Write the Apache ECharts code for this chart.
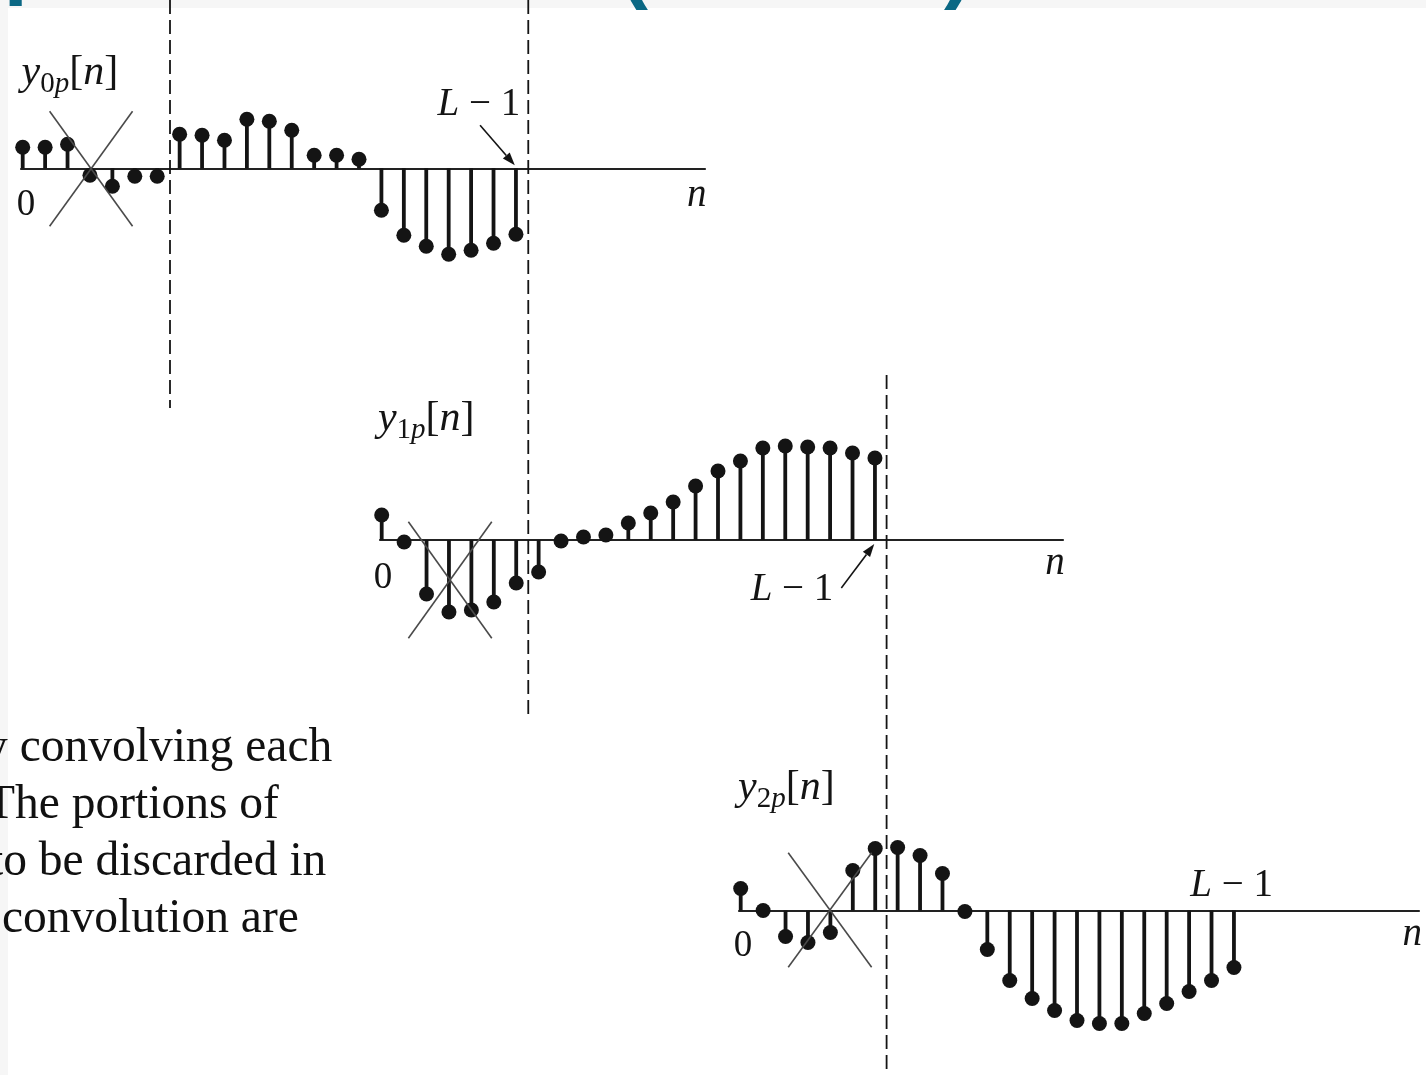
<!DOCTYPE html>
<html>
<head>
<meta charset="utf-8">
<script src="https://cdn.jsdelivr.net/npm/echarts@6/dist/echarts.min.js"></script>
<style>
  html, body { margin: 0; padding: 0; background: #ffffff; }
  #chart { width: 1426px; height: 1075px; }
</style>
</head>
<body>
<div id="chart"></div>
<script>
// Sample index n of each block output (0 .. L-1)
const sampleIndex = [0, 1, 2, 3, 4, 5, 6, 7, 8, 9, 10, 11, 12, 13, 14, 15, 16, 17, 18, 19, 20, 21, 22];

// Circular-convolution outputs of the three input blocks
const y0pValues = [21, 21, 24, -7, -18, -8, -8, 34, 33, 28, 49, 47, 38, 13, 13, 9, -42, -67, -78, -86, -82, -75, -66];
const y1pValues = [25, -2, -54, -72, -70, -62, -43, -32, -1, 3, 5, 17, 27, 38, 54, 69, 79, 92, 94, 93, 92, 87, 82];
const y2pValues = [22, 0, -26, -32, -22, 40, 62, 63, 55, 37, -1, -39, -70, -88, -100, -110, -113, -113, -103, -93, -81, -70, -57];

// Text drawn on the axes
const blockNumbers = ['0', '1', '2'];
const originTick = '0';
const axisName = 'n';
const lastSampleLabel = ['L', ' \u2212 1'];

const signals = [y0pValues, y1pValues, y2pValues];

// Panel geometry (pixels): origin of n=0 on the baseline, extent of the n axis, vertical span of the grid
const STEP = 22.42;
const panels = [
  { ox: 22.7,  oy: 168.3, from: 21,  to: 705,  top: 0,   bottom: 720 },
  { ox: 381.7, oy: 540,   from: 380, to: 1063, top: 370, bottom: 1075 },
  { ox: 740.7, oy: 910.5, from: 739, to: 1419, top: 760, bottom: 1075 }
];

// Annotations per panel in (n, value) coordinates
const notes = [
  {
    bounds: [[6.57, 168.3, -239.7], [22.55, 168.3, -551.7]],
    cross: [1.2, 4.9, 57, -58],
    arrow: [[20.4, 43], [21.95, 3]],
    lastLabel: [20.35, 64],
    zero: [0.15, -37],
    axisN: [30.07, -27],
    name: [-0.05, 95]
  },
  {
    bounds: [[22.52, 165, -535]],
    cross: [1.19, 4.91, 18.3, -98.3],
    arrow: [[20.5, -48], [21.97, -4]],
    lastLabel: [18.3, -50],
    zero: [0.06, -38],
    axisN: [30.03, -24],
    name: [-0.17, 121]
  },
  {
    bounds: [],
    cross: [2.12, 5.84, 57.8, -56.8],
    arrow: null,
    lastLabel: [21.9, 24.5],
    zero: [0.1, -35.5],
    axisN: [29.95, -24.5],
    name: [-0.12, 122.5]
  }
];

const INK = '#141414';
const SERIF = '"Liberation Serif", "Times New Roman", serif';
const measureCtx = document.createElement('canvas').getContext('2d');
function fontOf(r) { return (r.italic ? 'italic ' : '') + r.size + 'px ' + SERIF; }
function widthOf(r) { measureCtx.font = fontOf(r); return measureCtx.measureText(r.t).width; }

// Lay out a row of text runs (mixed italic / upright / subscript) next to each other
function textRuns(x, y, runs, align) {
  const widths = runs.map(widthOf);
  const total = widths.reduce((a, b) => a + b, 0);
  let cx = align === 'center' ? x - total / 2 : x;
  return runs.map((r, i) => {
    const el = {
      type: 'text', x: cx, y: y + (r.dy || 0),
      style: { text: r.t, font: fontOf(r), fill: INK, align: 'left', verticalAlign: 'middle' }
    };
    cx += widths[i];
    return el;
  });
}

function stemRenderer(params, api) {
  const n = api.value(0), v = api.value(1);
  const base = api.coord([n, 0]);
  const tip = api.coord([n, v]);
  return {
    type: 'group',
    children: [
      { type: 'line', shape: { x1: base[0], y1: base[1], x2: tip[0], y2: tip[1] },
        style: { stroke: INK, lineWidth: 3.8 } },
      { type: 'circle', shape: { cx: tip[0], cy: tip[1], r: 7.5 }, style: { fill: INK } }
    ]
  };
}

function noteRenderer(k) {
  return function (params, api) {
    const nt = notes[k];
    const children = [];
    // block boundaries
    nt.bounds.forEach(b => {
      const p1 = api.coord([b[0], b[1]]), p2 = api.coord([b[0], b[2]]);
      children.push({ type: 'line', shape: { x1: p1[0], y1: p1[1], x2: p2[0], y2: p2[1] },
        style: { stroke: INK, lineWidth: 1.8, lineDash: [14, 6] } });
    });
    // discarded samples struck out
    const c = nt.cross;
    const a = api.coord([c[0], c[2]]), b = api.coord([c[1], c[3]]);
    const d = api.coord([c[1], c[2]]), e = api.coord([c[0], c[3]]);
    children.push({ type: 'line', shape: { x1: a[0], y1: a[1], x2: b[0], y2: b[1] },
      style: { stroke: '#4a4a4a', lineWidth: 1.6 } });
    children.push({ type: 'line', shape: { x1: d[0], y1: d[1], x2: e[0], y2: e[1] },
      style: { stroke: '#4a4a4a', lineWidth: 1.6 } });
    // pointer to the last sample
    if (nt.arrow) {
      const s = api.coord(nt.arrow[0]), t = api.coord(nt.arrow[1]);
      const ang = Math.atan2(t[1] - s[1], t[0] - s[0]);
      const hl = 13, hw = 4.5;
      const bx = t[0] - hl * Math.cos(ang), by = t[1] - hl * Math.sin(ang);
      children.push({ type: 'line', shape: { x1: s[0], y1: s[1], x2: bx, y2: by },
        style: { stroke: INK, lineWidth: 1.6 } });
      children.push({ type: 'polygon', shape: { points: [
        [t[0], t[1]],
        [bx + hw * Math.sin(ang), by - hw * Math.cos(ang)],
        [bx - hw * Math.sin(ang), by + hw * Math.cos(ang)]
      ] }, style: { fill: INK } });
    }
    // labels
    const L = api.coord(nt.lastLabel);
    children.push(...textRuns(L[0], L[1], [
      { t: lastSampleLabel[0], size: 39, italic: true },
      { t: lastSampleLabel[1], size: 39 }
    ], 'center'));
    const z = api.coord(nt.zero);
    children.push(...textRuns(z[0], z[1], [{ t: originTick, size: 37 }], 'center'));
    const an = api.coord(nt.axisN);
    children.push(...textRuns(an[0], an[1], [{ t: axisName, size: 39, italic: true }], 'center'));
    const nm = api.coord(nt.name);
    children.push(...textRuns(nm[0], nm[1], [
      { t: 'y', size: 42, italic: true },
      { t: blockNumbers[k], size: 29, dy: 11 },
      { t: 'p', size: 29, italic: true, dy: 11 },
      { t: '[', size: 42 },
      { t: 'n', size: 42, italic: true },
      { t: ']', size: 42 }
    ], 'left'));
    return { type: 'group', children };
  };
}

const grids = [], xAxes = [], yAxes = [], series = [];
panels.forEach((p, k) => {
  grids.push({ left: p.from, top: p.top, width: p.to - p.from, height: p.bottom - p.top });
  xAxes.push({
    gridIndex: k, type: 'value',
    min: (p.from - p.ox) / STEP, max: (p.to - p.ox) / STEP,
    axisLine: { show: true, onZero: true, lineStyle: { color: '#222', width: 2.2 } },
    axisTick: { show: false }, axisLabel: { show: false }, splitLine: { show: false }
  });
  yAxes.push({
    gridIndex: k, type: 'value',
    min: p.oy - p.bottom, max: p.oy - p.top,
    axisLine: { show: false }, axisTick: { show: false }, axisLabel: { show: false }, splitLine: { show: false }
  });
  series.push({
    type: 'custom', name: 'y' + blockNumbers[k] + 'p', xAxisIndex: k, yAxisIndex: k,
    renderItem: stemRenderer,
    data: sampleIndex.map((n, i) => [n, signals[k][i]])
  });
  series.push({
    type: 'custom', name: 'notes' + k, xAxisIndex: k, yAxisIndex: k,
    renderItem: noteRenderer(k), data: [[0, 0]], silent: true
  });
});

// Running text beside the figure
const bodyLines = ['y convolving each', 'The portions of', 'to be discarded in', 'convolution are'];
const bodyX = [-16, -14, -10, 2];
const BODY_FONT = '47.5px ' + SERIF;
const TEAL = '#0b6884';
const HEAD_FONT = 'bold 84px "Liberation Sans"';

const graphic = [
  { type: 'rect', left: 0, top: 0, shape: { width: 1426, height: 8 }, style: { fill: '#f6f6f6' }, z: -10 },
  { type: 'rect', left: 0, top: 0, shape: { width: 8, height: 1075 }, style: { fill: '#f6f6f6' }, z: -10 },
  { type: 'text', x: 4, y: 25, style: { text: 'I', font: HEAD_FONT, fill: TEAL, align: 'left', verticalAlign: 'bottom' } },
  { type: 'text', x: 620, y: 12, style: { text: '(', font: HEAD_FONT, fill: TEAL, align: 'left', verticalAlign: 'bottom' } },
  { type: 'text', x: 944, y: 12, style: { text: ')', font: HEAD_FONT, fill: TEAL, align: 'left', verticalAlign: 'bottom' } }
];
bodyLines.forEach((t, i) => {
  graphic.push({ type: 'text', x: bodyX[i], y: 749 + i * 57,
    style: { text: t, font: BODY_FONT, fill: '#111', align: 'left', verticalAlign: 'middle' } });
});

const chart = echarts.init(document.getElementById('chart'), null, { renderer: 'canvas', width: 1426, height: 1075 });
chart.setOption({
  animation: false,
  backgroundColor: '#ffffff',
  grid: grids,
  xAxis: xAxes,
  yAxis: yAxes,
  series: series,
  graphic: graphic
});
</script>
</body>
</html>
